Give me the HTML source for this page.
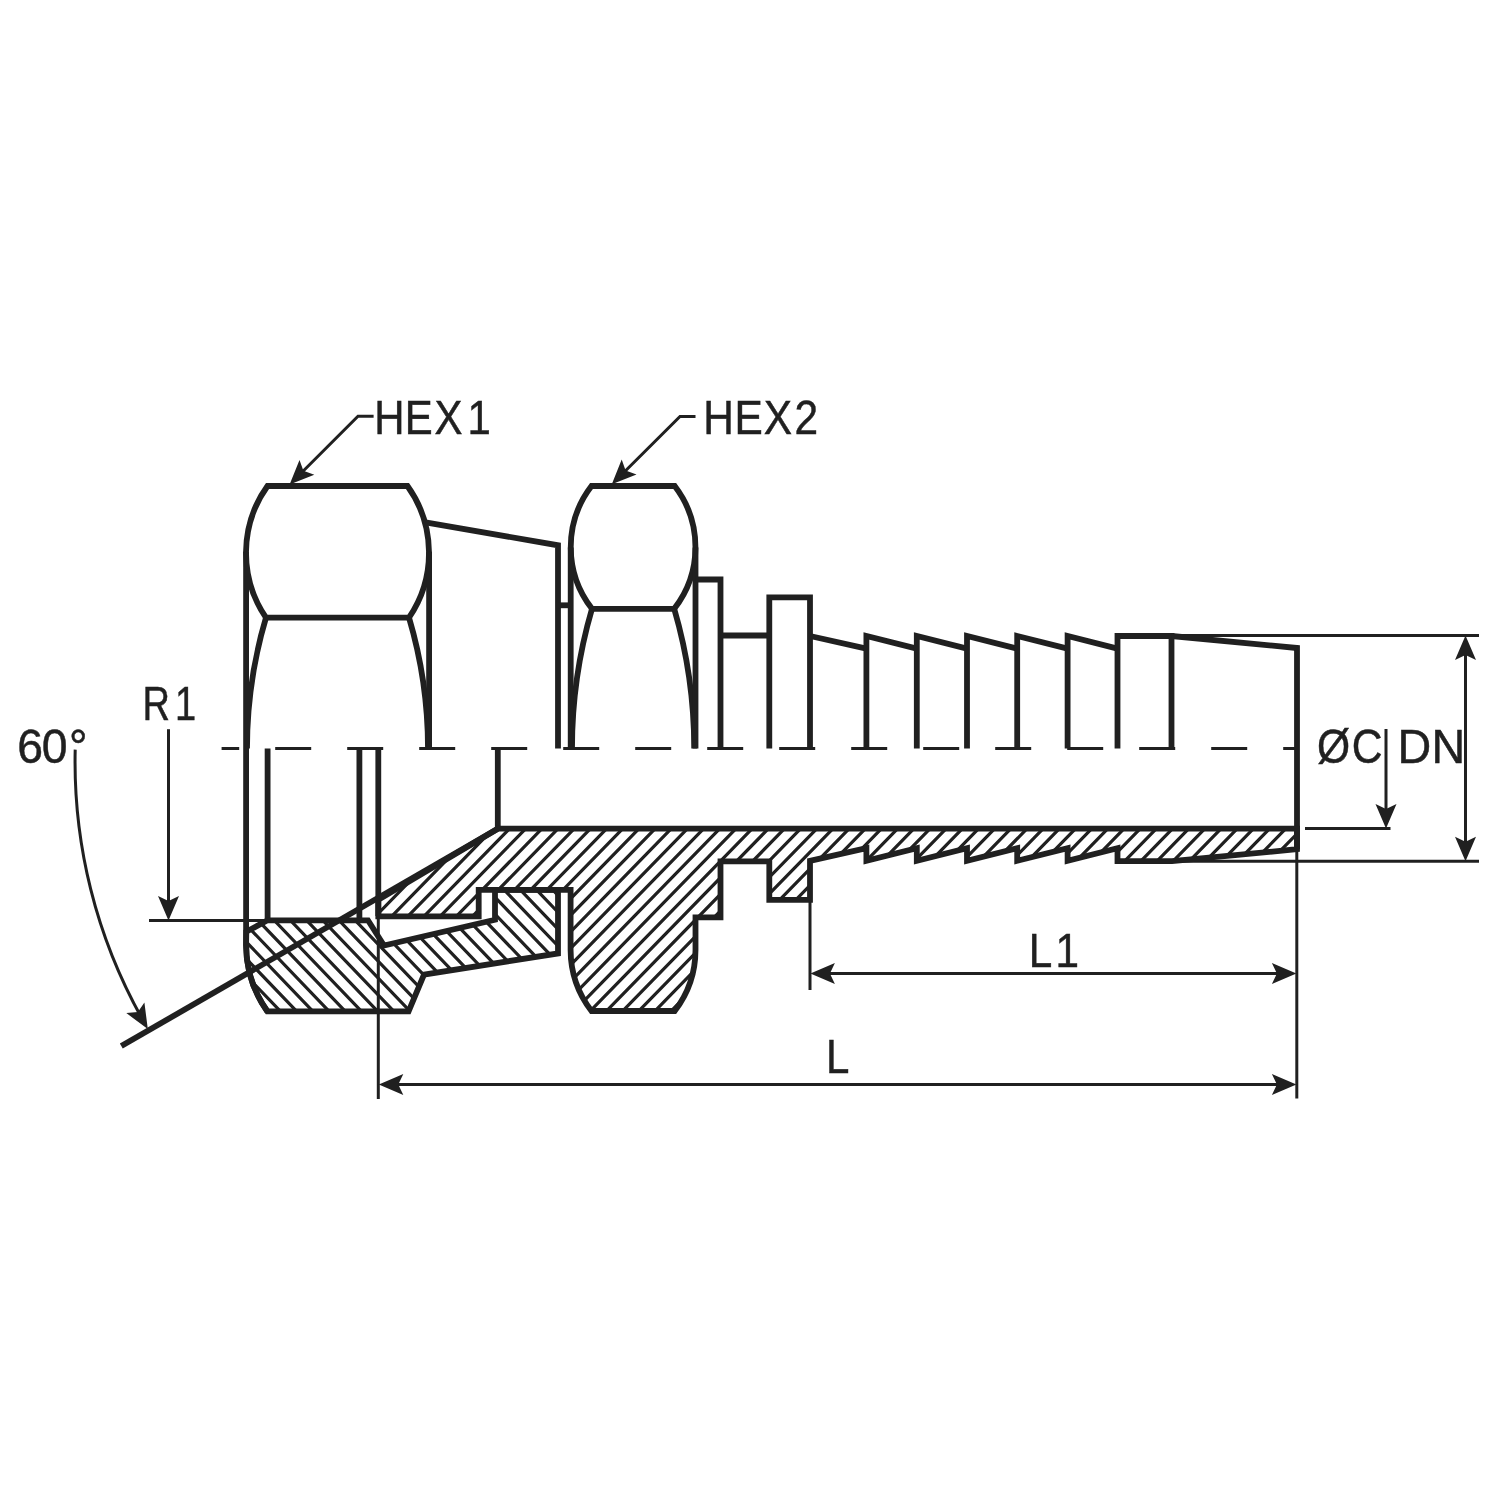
<!DOCTYPE html>
<html><head><meta charset="utf-8"><title>Hose insert drawing</title>
<style>html,body{margin:0;padding:0;background:#fff}svg{display:block;filter:grayscale(1)}</style></head>
<body><svg width="1500" height="1500" viewBox="0 0 1500 1500">
<rect width="1500" height="1500" fill="#fff"/>
<defs>
<clipPath id="ci"><path d="M497.8,828.7 L1297,828.7 L1297,849.2 L1172,861.2 L1117.5,861.2 L1117.5,848.2 L1067.6,860.8 L1067.6,848.2 L1017.2,860.8 L1017.2,848.2 L967.0,860.8 L967.0,848.2 L916.8,860.8 L916.8,848.2 L866.4,860.8 L866.4,848.2 L810,860.8 L810,899.8 L769.3,899.8 L769.3,861.4 L720.5,861.4 L720.5,917.3 L695.5,917.3 L695.5,950 A100.3,100.3 0 0 1 674.7,1011 L591.5,1011 A100.3,100.3 0 0 1 570.6,950 L570.6,889.8 L478.7,889.8 L478.7,916.4 L378.3,916.4 L378.3,899.7 Z"/></clipPath>
<clipPath id="cn"><path d="M267.5,920.3 L368,920.3 L384,945.5 L495,919.8 L495,889.8 L558,889.8 L558,953.4 L424,974.6 L408.6,1011.3 L267.3,1011.3 A115,115 0 0 1 246.1,945 L246.3,931.8 Z"/></clipPath>
</defs>
<g stroke="#231f20" stroke-width="3.2" fill="none">
<path clip-path="url(#ci)" d="M351.4,825 L166.0,1015 M367.6,825 L182.2,1015 M383.8,825 L198.4,1015 M399.9,825 L214.5,1015 M416.1,825 L230.7,1015 M432.3,825 L246.9,1015 M448.5,825 L263.0,1015 M464.6,825 L279.2,1015 M480.8,825 L295.4,1015 M497.0,825 L311.5,1015 M513.1,825 L327.7,1015 M529.3,825 L343.9,1015 M545.5,825 L360.1,1015 M561.6,825 L376.2,1015 M577.8,825 L392.4,1015 M594.0,825 L408.6,1015 M610.2,825 L424.7,1015 M626.3,825 L440.9,1015 M642.5,825 L457.1,1015 M658.7,825 L473.2,1015 M674.8,825 L489.4,1015 M691.0,825 L505.6,1015 M707.2,825 L521.8,1015 M723.3,825 L537.9,1015 M739.5,825 L554.1,1015 M755.7,825 L570.3,1015 M771.9,825 L586.4,1015 M788.0,825 L602.6,1015 M804.2,825 L618.8,1015 M820.4,825 L634.9,1015 M836.5,825 L651.1,1015 M852.7,825 L667.3,1015 M868.9,825 L683.5,1015 M885.0,825 L699.6,1015 M901.2,825 L715.8,1015 M917.4,825 L732.0,1015 M933.6,825 L748.1,1015 M949.7,825 L764.3,1015 M965.9,825 L780.5,1015 M982.1,825 L796.6,1015 M998.2,825 L812.8,1015 M1014.4,825 L829.0,1015 M1030.6,825 L845.2,1015 M1046.7,825 L861.3,1015 M1062.9,825 L877.5,1015 M1079.1,825 L893.7,1015 M1095.3,825 L909.8,1015 M1111.4,825 L926.0,1015 M1127.6,825 L942.2,1015 M1143.8,825 L958.3,1015 M1159.9,825 L974.5,1015 M1176.1,825 L990.7,1015 M1192.3,825 L1006.9,1015 M1208.4,825 L1023.0,1015 M1224.6,825 L1039.2,1015 M1240.8,825 L1055.4,1015 M1257.0,825 L1071.5,1015 M1273.1,825 L1087.7,1015 M1289.3,825 L1103.9,1015 M1305.5,825 L1120.0,1015 M1321.6,825 L1136.2,1015 M1337.8,825 L1152.4,1015 M1354.0,825 L1168.6,1015 M1370.1,825 L1184.7,1015 M1386.3,825 L1200.9,1015 M1402.5,825 L1217.1,1015 M1418.7,825 L1233.2,1015 M1434.8,825 L1249.4,1015 M1451.0,825 L1265.6,1015 M1467.2,825 L1281.7,1015 M1483.3,825 L1297.9,1015 M1499.5,825 L1314.1,1015 M1515.7,825 L1330.3,1015"/>
<path clip-path="url(#cn)" d="M94.5,885 L219.2,1015 M110.7,885 L235.4,1015 M126.9,885 L251.6,1015 M143.1,885 L267.8,1015 M159.3,885 L284.0,1015 M175.5,885 L300.2,1015 M191.7,885 L316.4,1015 M207.9,885 L332.6,1015 M224.1,885 L348.8,1015 M240.3,885 L365.0,1015 M256.5,885 L381.2,1015 M272.7,885 L397.4,1015 M288.9,885 L413.6,1015 M305.1,885 L429.8,1015 M321.3,885 L446.0,1015 M337.5,885 L462.2,1015 M353.7,885 L478.4,1015 M369.9,885 L494.6,1015 M386.1,885 L510.8,1015 M402.3,885 L527.0,1015 M418.5,885 L543.2,1015 M434.7,885 L559.4,1015 M450.9,885 L575.6,1015 M467.1,885 L591.8,1015 M483.3,885 L608.0,1015 M499.5,885 L624.2,1015 M515.7,885 L640.4,1015 M531.9,885 L656.6,1015 M548.1,885 L672.8,1015 M564.3,885 L689.0,1015 M580.5,885 L705.2,1015 M596.7,885 L721.4,1015"/>
</g>
<g stroke="#231f20" stroke-width="3.0" fill="none">
<path d="M221.6,748.4 H1299" stroke-dasharray="36 36" stroke-dashoffset="18.4"/>
<path d="M373.6,416.3 H358 L294,480.3"/>
<path d="M695.5,416.5 H680 L616,480.3"/>
<path d="M149,920.4 H268"/>
<path d="M168.5,729.2 V915"/>
<path d="M75.2,749.6 A525.0,525.0 0 0 0 142.9,1020.2"/>
<path d="M1117,635.4 H1479"/>
<path d="M1150,861.3 H1479"/>
<path d="M1465.5,642 V855"/>
<path d="M1386,729 V822"/>
<path d="M1305,828.6 H1390.5"/>
<path d="M810,900 V990"/>
<path d="M1296.8,849 V1098.5"/>
<path d="M816,973.6 H1291"/>
<path d="M378.3,916 V1099"/>
<path d="M384,1084.6 H1291"/>
</g>
<g fill="#231f20" stroke="none">
<polygon points="289.6,484.6 299.5,459.9 303.4,470.8 314.3,474.7"/>
<polygon points="611.8,484.3 621.7,459.6 625.6,470.5 636.5,474.4"/>
<polygon points="168.5,920.6 158.0,896.1 168.5,901.1 179.0,896.1"/>
<polygon points="147.8,1028.9 126.3,1013.1 137.9,1012.1 144.4,1002.5"/>
<polygon points="1465.5,635.6 1476.0,660.1 1465.5,655.1 1455.0,660.1"/>
<polygon points="1465.5,861.2 1455.0,836.7 1465.5,841.7 1476.0,836.7"/>
<polygon points="1386.0,828.4 1375.5,803.9 1386.0,808.9 1396.5,803.9"/>
<polygon points="810.4,973.6 834.9,963.1 829.9,973.6 834.9,984.1"/>
<polygon points="1296.4,973.6 1271.9,984.1 1276.9,973.6 1271.9,963.1"/>
<polygon points="378.8,1084.6 403.3,1074.1 398.3,1084.6 403.3,1095.1"/>
<polygon points="1296.4,1084.6 1271.9,1095.1 1276.9,1084.6 1271.9,1074.1"/>
</g>
<g stroke="#231f20" stroke-width="5.8" fill="none" stroke-linejoin="miter" stroke-miterlimit="10">
<path d="M267.5,486 A115,115 0 0 0 266,617.7 H409 A115,115 0 0 0 407.5,486 Z"/>
<path d="M266,617.7 A459,459 0 0 0 247,748.4"/>
<path d="M409,617.7 A459,459 0 0 1 428,748.4"/>
<path d="M246.1,551.85 V945 A115,115 0 0 0 267.3,1011.3"/>
<path d="M429.1,551.85 V748.4"/>
<path d="M425.5,522.4 L558,545.3 V748.4"/>
<path d="M558,605.3 H570.7"/>
<path d="M591.5,486 A100.3,100.3 0 0 0 592,608.8 H674.2 A100.3,100.3 0 0 0 674.7,486 Z"/>
<path d="M592,608.8 A497,497 0 0 0 572,748.4"/>
<path d="M674.2,608.8 A497,497 0 0 1 694.2,748.4"/>
<path d="M570.7,547.4 V748.4"/>
<path d="M695.5,547.4 V748.4"/>
<path d="M695.5,579.5 H720.5 V748.4"/>
<path d="M720.5,635.5 H769.3"/>
<path d="M769.3,748.4 V597.3 H810 V748.4"/>
<path d="M810,636 L866.4,648.6"/>
<path d="M866.4,748.4 V636 L916.8,648.6"/>
<path d="M916.8,748.4 V636 L967.0,648.6"/>
<path d="M967.0,748.4 V636 L1017.2,648.6"/>
<path d="M1017.2,748.4 V636 L1067.6,648.6"/>
<path d="M1067.6,748.4 V636 L1117.5,648.6"/>
<path d="M1117.5,748.4 V636 H1171.5 V748.4"/>
<path d="M1171.5,636 L1297,648 V849.2"/>
<path d="M267.6,748.4 V920"/>
<path d="M359.4,748.4 V920"/>
<path d="M378.3,748.4 V916"/>
<path d="M497.8,748.4 V828.7"/>
<path d="M121.3,1046.1 L497.8,828.7"/>
<path d="M497.8,828.7 L1297,828.7 L1297,849.2 L1172,861.2 L1117.5,861.2 L1117.5,848.2 L1067.6,860.8 L1067.6,848.2 L1017.2,860.8 L1017.2,848.2 L967.0,860.8 L967.0,848.2 L916.8,860.8 L916.8,848.2 L866.4,860.8 L866.4,848.2 L810,860.8 L810,899.8 L769.3,899.8 L769.3,861.4 L720.5,861.4 L720.5,917.3 L695.5,917.3 L695.5,950 A100.3,100.3 0 0 1 674.7,1011 L591.5,1011 A100.3,100.3 0 0 1 570.6,950 L570.6,889.8 L478.7,889.8 L478.7,916.4 L378.3,916.4 L378.3,899.7 Z"/>
<path d="M267.5,920.3 L368,920.3 L384,945.5 L495,919.8 L495,889.8 L558,889.8 L558,953.4 L424,974.6 L408.6,1011.3 L267.3,1011.3 A115,115 0 0 1 246.1,945 L246.3,931.8 Z"/>
</g>
<g fill="#231f20" font-family="'Liberation Sans', sans-serif" font-size="47.5" stroke="#231f20" stroke-width="0.5">
<text transform="translate(376.8,434.0) scale(0.8827,1)" x="-2.8 31.6 65.5 102.8" y="0">HEX1</text>
<text transform="translate(705.6,434.1) scale(0.8932,1)" x="-2.7 32.3 65.1 99.4" y="0">HEX2</text>
<text transform="translate(145.6,720.4) scale(0.8000,1)" x="-4.0 36.7" y="0">R1</text>
<text transform="translate(18.9,763.0) scale(0.9759,1)" x="-1.8 23.3 51.3" y="0">60°</text>
<text transform="translate(1318.0,762.6) scale(0.8968,1)" x="-1.0 37.6" y="0">ØC</text>
<text transform="translate(1401.6,762.6) scale(0.9833,1)" x="-4.2 30.5" y="0">DN</text>
<text transform="translate(1032.3,967.4) scale(0.8905,1)" x="-4.0 26.1" y="0">L1</text>
<text transform="translate(829.6,1073.3) scale(0.8857,1)" x="-4.0" y="0">L</text>
</g>
</svg></body></html>
